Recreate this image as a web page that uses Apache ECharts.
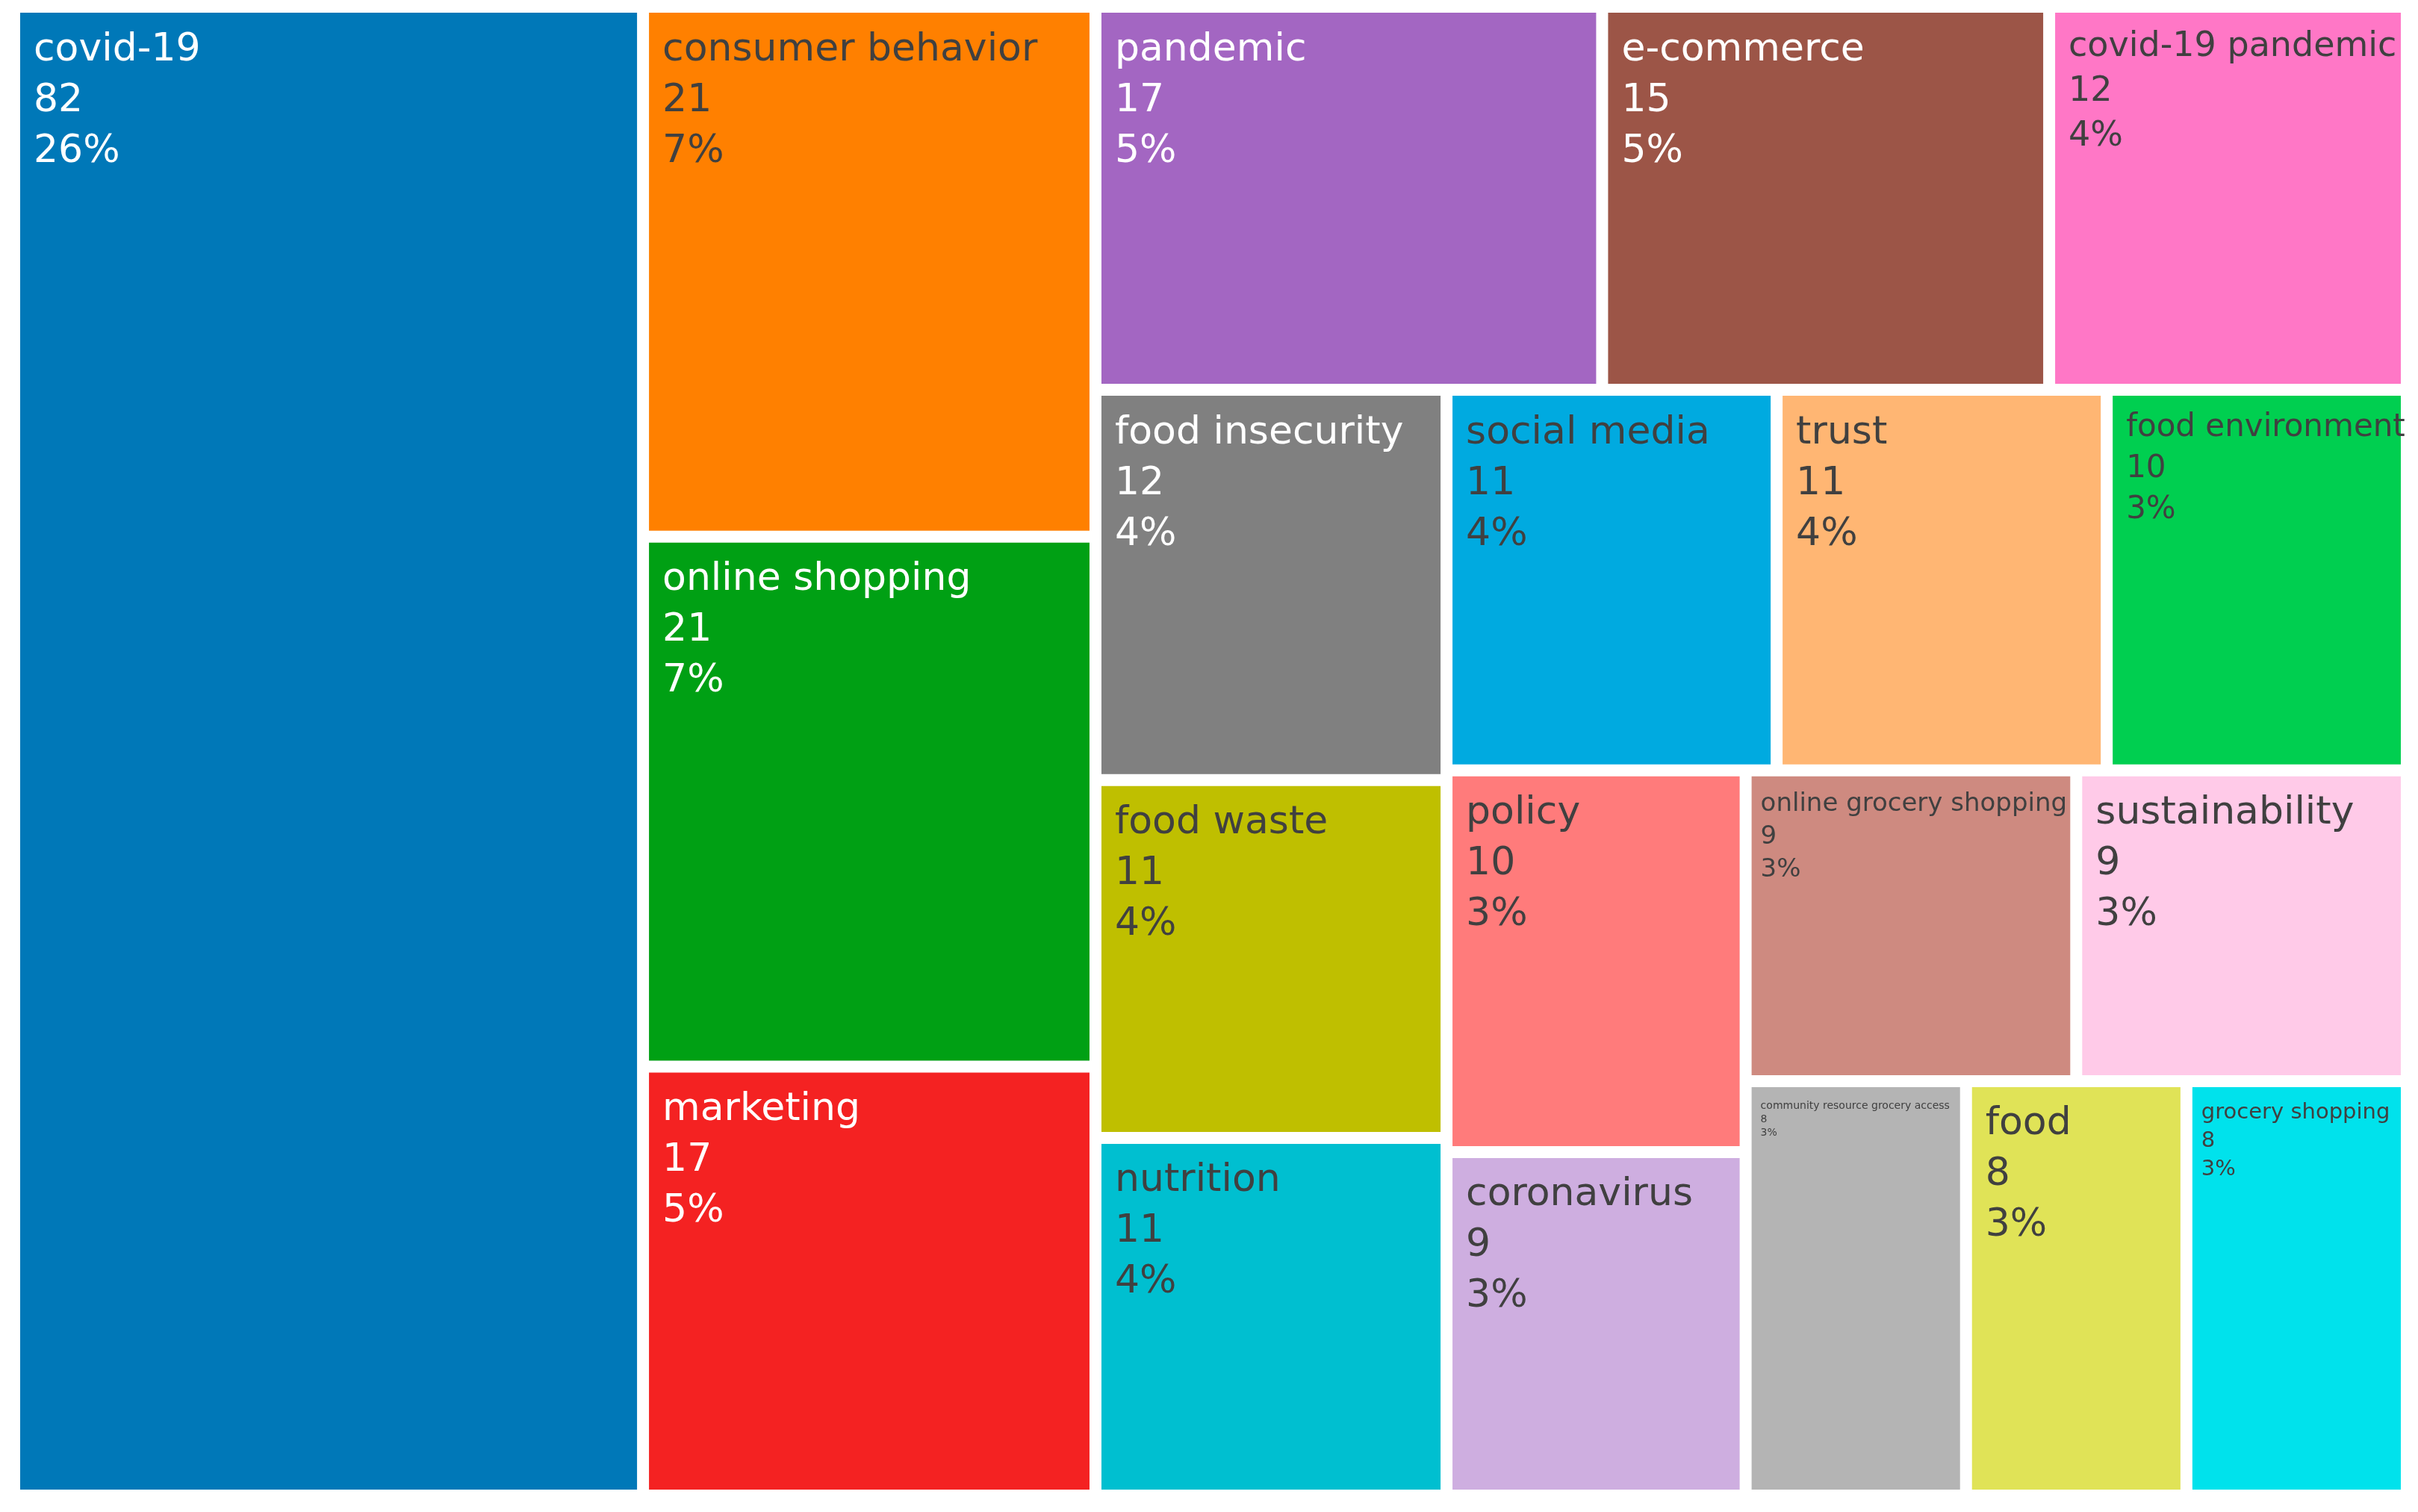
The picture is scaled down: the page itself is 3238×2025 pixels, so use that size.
<!DOCTYPE html>
<html>
<head>
<meta charset="utf-8">
<script src="https://cdn.jsdelivr.net/npm/echarts@6/dist/echarts.min.js"></script>
<style>
html, body { margin: 0; padding: 0; background: #ffffff; }
#chart { width: 3238px; height: 2025px; }
</style>
</head>
<body>
<div id="chart"></div>
<script>
// ---- data ----
const keywords = [
  'covid-19', 'consumer behavior', 'online shopping', 'marketing', 'pandemic',
  'e-commerce', 'covid-19 pandemic', 'food insecurity', 'food waste', 'nutrition',
  'social media', 'trust', 'food environment', 'policy', 'coronavirus',
  'online grocery shopping', 'sustainability', 'community resource grocery access',
  'food', 'grocery shopping'
];
const counts = [82, 21, 21, 17, 17, 15, 12, 12, 11, 11, 11, 11, 10, 10, 9, 9, 9, 8, 8, 8];

// ---- styles (kept apart from data) ----
const cellColors = [
  '#0078B8', '#FF8000', '#00A014', '#F42222', '#A366C2',
  '#9C5547', '#FF77C6', '#808080', '#BFBF00', '#00BFD0',
  '#00AAE0', '#FFB673', '#00CF50', '#FF7B7B', '#CEAEE0',
  '#CE8A80', '#FFCAE8', '#B4B4B4', '#E0E357', '#00E2EC'
];
const lightLabelCells = ['covid-19', 'online shopping', 'marketing', 'pandemic', 'e-commerce', 'food insecurity'];
const labelFontSizes = [52, 52, 52, 52, 52, 52, 46, 52, 52, 52, 52, 52, 42, 52, 52, 34, 52, 14, 52, 29];

const total = counts.reduce((a, b) => a + b, 0);

const data = keywords.map((name, i) => {
  const fs = labelFontSizes[i];
  return {
    name: name,
    value: counts[i],
    itemStyle: { color: cellColors[i] },
    label: {
      fontSize: fs,
      lineHeight: Math.round(fs * 1.3),
      color: lightLabelCells.indexOf(name) >= 0 ? '#ffffff' : '#404040',
      padding: [16, 0, 0, fs >= 40 ? 18 : 12]
    }
  };
});

const chart = echarts.init(document.getElementById('chart'), null, { renderer: 'canvas' });
chart.setOption({
  animation: false,
  backgroundColor: '#ffffff',
  series: [{
    type: 'treemap',
    left: 27,
    top: 17,
    width: 3188,
    height: 1978,
    roam: false,
    nodeClick: false,
    sort: false,
    squareRatio: 1,
    visibleMin: 0,
    breadcrumb: { show: false },
    levels: [
      { itemStyle: { gapWidth: 16, borderWidth: 0, borderColor: '#ffffff' } }
    ],
    itemStyle: { borderWidth: 0, gapWidth: 0 },
    label: {
      show: true,
      position: 'insideTopLeft',
      distance: 0,
      fontFamily: 'DejaVu Sans',
      overflow: 'none',
      formatter: function (p) {
        return p.name + '\n' + p.value + '\n' + Math.round(p.value / total * 100) + '%';
      }
    },
    data: data
  }]
});
</script>
</body>
</html>
